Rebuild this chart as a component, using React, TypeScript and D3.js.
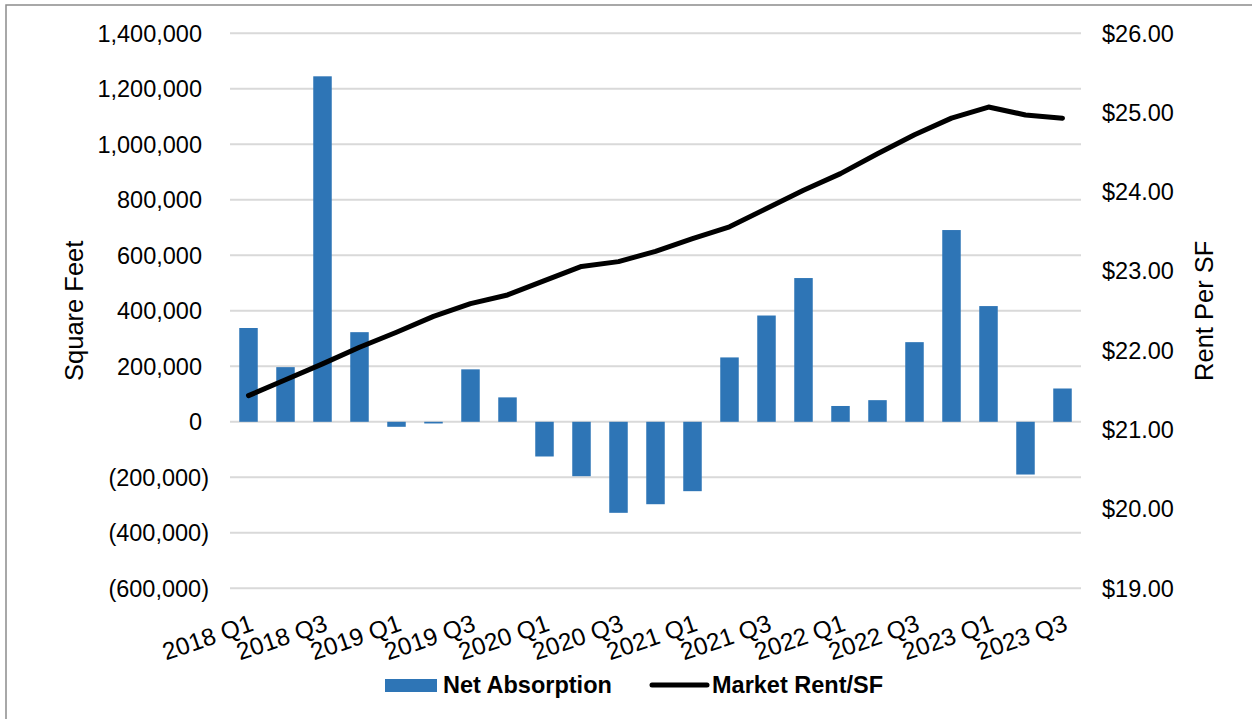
import React from "react";
import * as d3 from "d3";

// Quarterly net absorption (SF) and market rent per SF
const quarters = [
  "2018 Q1", "2018 Q2", "2018 Q3", "2018 Q4",
  "2019 Q1", "2019 Q2", "2019 Q3", "2019 Q4",
  "2020 Q1", "2020 Q2", "2020 Q3", "2020 Q4",
  "2021 Q1", "2021 Q2", "2021 Q3", "2021 Q4",
  "2022 Q1", "2022 Q2", "2022 Q3", "2022 Q4",
  "2023 Q1", "2023 Q2", "2023 Q3",
];

const netAbsorption = [
  338000, 197000, 1245000, 323000,
  -18000, -6000, 189000, 88000,
  -125000, -196000, -328000, -297000,
  -250000, 232000, 383000, 518000,
  57000, 78000, 287000, 691000,
  417000, -190000, 120000,
];

const marketRent = [
  21.43, 21.63, 21.83, 22.04,
  22.23, 22.43, 22.59, 22.70,
  22.88, 23.06, 23.12, 23.25,
  23.41, 23.56, 23.79, 24.02,
  24.23, 24.48, 24.72, 24.93,
  25.07, 24.97, 24.93,
];

const leftTicks = [-600000, -400000, -200000, 0, 200000, 400000, 600000, 800000, 1000000, 1200000, 1400000];
const rightTicks = [19, 20, 21, 22, 23, 24, 25, 26];

const W = 1252;
const H = 719;
const plot = { left: 230, right: 1081, top: 33.3, bottom: 588.3 };

const BAR = "#2E75B6";
const GRID = "#D9D9D9";
const FONT = "'Liberation Sans', Arial, sans-serif";

const fmtComma = d3.format(",");
const fmtLeft = (v: number) => (v < 0 ? `(${fmtComma(-v)})` : fmtComma(v));
const fmtRight = (v: number) => `$${v.toFixed(2)}`;

export default function App() {
  const x = d3
    .scaleBand<string>()
    .domain(quarters)
    .range([plot.left, plot.right])
    .paddingInner(0.5)
    .paddingOuter(0.25);

  const yL = d3.scaleLinear().domain([-600000, 1400000]).range([plot.bottom, plot.top]);
  const yR = d3.scaleLinear().domain([19, 26]).range([plot.bottom, plot.top]);

  const cx = (q: string) => (x(q) as number) + x.bandwidth() / 2;

  const rentLine = d3
    .line<number>()
    .x((_, i) => cx(quarters[i]))
    .y((d) => yR(d));

  return (
    <svg
      width={W}
      height={H}
      viewBox={`0 0 ${W} ${H}`}
      style={{ position: "absolute", left: 0, top: 0, background: "#fff" }}
      fontFamily={FONT}
    >
      <rect x={0} y={0} width={W} height={H} fill="#fff" />
      {/* chart frame */}
      <rect x={6} y={5} width={W + 20} height={H + 20} fill="none" stroke="#8C8C8C" strokeWidth={1.5} />

      {/* gridlines */}
      {leftTicks.map((t) => (
        <line
          key={`g${t}`}
          x1={plot.left}
          x2={plot.right}
          y1={yL(t)}
          y2={yL(t)}
          stroke={GRID}
          strokeWidth={2}
        />
      ))}

      {/* left axis labels */}
      {leftTicks.map((t) => (
        <text
          key={`l${t}`}
          x={t < 0 ? 209 : 202}
          y={yL(t)}
          dy="0.35em"
          textAnchor="end"
          fontSize={23.5}
          fill="#000"
        >
          {fmtLeft(t)}
        </text>
      ))}

      {/* right axis labels */}
      {rightTicks.map((t) => (
        <text
          key={`r${t}`}
          x={1102}
          y={yR(t)}
          dy="0.35em"
          textAnchor="start"
          fontSize={23.5}
          fill="#000"
        >
          {fmtRight(t)}
        </text>
      ))}

      {/* bars */}
      {netAbsorption.map((v, i) => (
        <rect
          key={`b${i}`}
          x={x(quarters[i])}
          width={x.bandwidth()}
          y={Math.min(yL(v), yL(0))}
          height={Math.abs(yL(v) - yL(0))}
          fill={BAR}
        />
      ))}

      {/* rent line */}
      <path
        d={rentLine(marketRent) || ""}
        fill="none"
        stroke="#000"
        strokeWidth={5}
        strokeLinejoin="round"
        strokeLinecap="round"
      />

      {/* category labels */}
      {quarters.map((q, i) =>
        i % 2 === 0 ? (
          <text
            key={`x${q}`}
            transform={`translate(${cx(q) + 6.5},${630}) rotate(-19)`}
            textAnchor="end"
            fontSize={24.5}
            fill="#000"
          >
            {q}
          </text>
        ) : null
      )}

      {/* axis titles */}
      <text
        transform={`translate(82.5,${(plot.top + plot.bottom) / 2}) rotate(-90)`}
        textAnchor="middle"
        fontSize={25.5}
        fill="#000"
      >
        Square Feet
      </text>
      <text
        transform={`translate(1213,${(plot.top + plot.bottom) / 2}) rotate(-90)`}
        textAnchor="middle"
        fontSize={25.5}
        fill="#000"
      >
        Rent Per SF
      </text>

      {/* legend */}
      <rect x={385} y={679} width={52} height={13} fill={BAR} />
      <text x={443} y={693} fontSize={23.5} fontWeight="bold" fill="#000">
        Net Absorption
      </text>
      <line x1={652} x2={707} y1={685} y2={685} stroke="#000" strokeWidth={5} strokeLinecap="round" />
      <text x={712} y={693} fontSize={23.5} fontWeight="bold" fill="#000">
        Market Rent/SF
      </text>
    </svg>
  );
}
